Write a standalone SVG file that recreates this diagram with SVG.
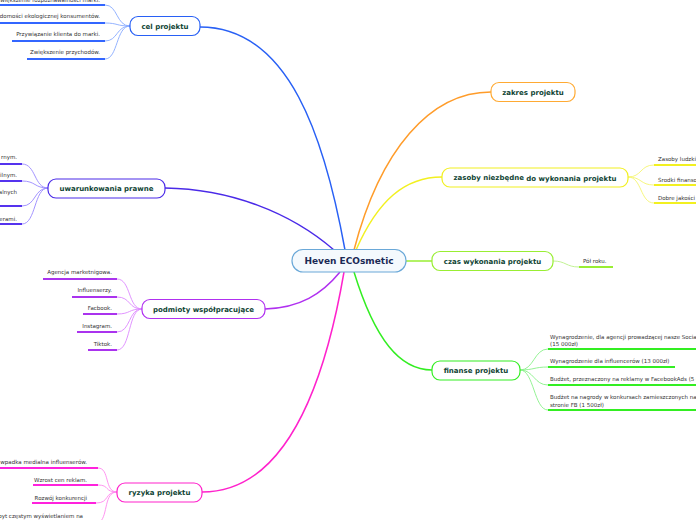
<svg xmlns="http://www.w3.org/2000/svg" width="696" height="520" viewBox="0 0 696 520">
<style>
.bg{fill:#ffffff}
.node rect{fill:#ffffff;stroke-width:1.2}
.nt{font-family:"DejaVu Sans",Verdana,sans-serif;font-weight:bold;font-size:7px;fill:#0f4434;text-anchor:middle}
.ct{font-family:"DejaVu Sans",Verdana,sans-serif;font-weight:bold;font-size:9px;fill:#1b2a55;text-anchor:middle}
.lt{font-family:"DejaVu Sans",Verdana,sans-serif;font-size:5.5px;fill:#333333}
.le{text-anchor:end}
.main{fill:none;stroke-width:1.5}
.sub{fill:none;stroke-width:0.9}
.ul{fill:none;stroke-width:2}
</style>
<rect class="bg" x="0" y="0" width="696" height="520"/>

<g id="connectors">
  <!-- main branches -->
  <path class="main" stroke="#2860f5" d="M345,250 C325,140 290,27 200,27"/>
  <path class="main" stroke="#4a2ae8" d="M334,250 C290,212 230,189 165,188"/>
  <path class="main" stroke="#b030f0" d="M340,272 C322,294 300,308 265,309"/>
  <path class="main" stroke="#ff22cc" d="M344,272 C322,400 280,492 202,492"/>
  <path class="main" stroke="#ff9c2a" d="M354,250 C380,150 430,92 491,92"/>
  <path class="main" stroke="#f2f020" d="M356,250 C378,200 405,177 442,177"/>
  <path class="main" stroke="#99ee33" d="M406,261 L432,261"/>
  <path class="main" stroke="#33ee22" d="M354,272 C375,340 400,370 432,370"/>

  <!-- cel projektu leaves -->
  <path class="sub" stroke="#88aaff" d="M130,26 C116,26 118,5 105,5"/>
  <path class="sub" stroke="#88aaff" d="M130,26 C116,26 118,23 105,23"/>
  <path class="sub" stroke="#88aaff" d="M130,26 C116,26 118,41 105,41"/>
  <path class="sub" stroke="#88aaff" d="M130,26 C116,26 118,59 105,59"/>
  <path class="ul" stroke="#3366ff" d="M0,5 L105,5"/>
  <path class="ul" stroke="#3366ff" d="M0,23 L105,23"/>
  <path class="ul" stroke="#3366ff" d="M12,41 L105,41"/>
  <path class="ul" stroke="#3366ff" d="M27,59 L105,59"/>

  <!-- uwarunkowania leaves -->
  <path class="sub" stroke="#9988ff" d="M48,188 C34,188 36,164 22,164"/>
  <path class="sub" stroke="#9988ff" d="M48,188 C34,188 36,181 22,181"/>
  <path class="sub" stroke="#9988ff" d="M48,188 C34,188 36,206 22,206"/>
  <path class="sub" stroke="#9988ff" d="M48,188 C34,188 36,224 22,224"/>
  <path class="ul" stroke="#5533ee" d="M0,164 L22,164"/>
  <path class="ul" stroke="#5533ee" d="M0,181 L22,181"/>
  <path class="ul" stroke="#5533ee" d="M0,206 L22,206"/>
  <path class="ul" stroke="#5533ee" d="M0,224 L22,224"/>

  <!-- podmioty leaves -->
  <path class="sub" stroke="#dd88ff" d="M142,309 C128,309 131,279 117,279"/>
  <path class="sub" stroke="#dd88ff" d="M142,309 C128,309 131,297 117,297"/>
  <path class="sub" stroke="#dd88ff" d="M142,309 C128,309 131,314 117,314"/>
  <path class="sub" stroke="#dd88ff" d="M142,309 C128,309 131,332 117,332"/>
  <path class="sub" stroke="#dd88ff" d="M142,309 C128,309 131,350 117,350"/>
  <path class="ul" stroke="#aa33ee" d="M43,279 L117,279"/>
  <path class="ul" stroke="#aa33ee" d="M72,297 L117,297"/>
  <path class="ul" stroke="#aa33ee" d="M83,314 L117,314"/>
  <path class="ul" stroke="#aa33ee" d="M77,332 L117,332"/>
  <path class="ul" stroke="#aa33ee" d="M88,350 L117,350"/>

  <!-- ryzyka leaves -->
  <path class="sub" stroke="#ff88ee" d="M117,492 C104,492 110,468 98,468"/>
  <path class="sub" stroke="#ff88ee" d="M117,492 C104,492 110,485 98,485"/>
  <path class="sub" stroke="#ff88ee" d="M117,492 C104,492 110,503 96,503"/>
  <path class="sub" stroke="#ff88ee" d="M117,492 C104,492 108,515 100,522"/>
  <path class="ul" stroke="#ff22dd" d="M0,468 L98,468"/>
  <path class="ul" stroke="#ff22dd" d="M33,485 L98,485"/>
  <path class="ul" stroke="#ff22dd" d="M32,503 L96,503"/>

  <!-- zasoby leaves -->
  <path class="sub" stroke="#f5f570" d="M628,177 C642,177 640,165 654,165"/>
  <path class="sub" stroke="#f5f570" d="M628,177 C642,177 640,185 654,185"/>
  <path class="sub" stroke="#f5f570" d="M628,177 C642,177 640,203 654,203"/>
  <path class="ul" stroke="#f2f020" d="M654,165 L696,165"/>
  <path class="ul" stroke="#f2f020" d="M654,185 L696,185"/>
  <path class="ul" stroke="#f2f020" d="M654,203 L696,203"/>

  <!-- czas leaf -->
  <path class="sub" stroke="#bbf088" d="M553,261 C566,261 566,267 579,267"/>
  <path class="ul" stroke="#99ee33" d="M579,267 L613,267"/>

  <!-- finanse leaves -->
  <path class="sub" stroke="#88f088" d="M520,370 C534,370 534,349 548,349"/>
  <path class="sub" stroke="#88f088" d="M520,370 C534,370 534,367 548,367"/>
  <path class="sub" stroke="#88f088" d="M520,370 C534,370 534,385 548,385"/>
  <path class="sub" stroke="#88f088" d="M520,370 C534,370 534,410 548,410"/>
  <path class="ul" stroke="#33ee22" d="M548,349 L696,349"/>
  <path class="ul" stroke="#33ee22" d="M548,367 L675,367"/>
  <path class="ul" stroke="#33ee22" d="M548,385 L696,385"/>
  <path class="ul" stroke="#33ee22" d="M548,410 L696,410"/>
</g>

<g id="center" class="node">
  <rect x="292" y="249.5" width="114" height="22.5" rx="11" style="fill:#f4f9fd" stroke="#6aa8d8"/>
  <text class="ct" x="349" y="264">Heven ECOsmetic</text>
</g>

<g id="cel-projektu" class="node">
  <rect x="130" y="16.5" width="70" height="19" rx="8" stroke="#2860f5"/>
  <text class="nt" x="165" y="28.5">cel projektu</text>
  <text class="lt le" x="100" y="2">Zwiększenie rozpoznawalności marki.</text>
  <text class="lt le" x="100" y="18">Zwiększenie świadomości ekologicznej konsumentów.</text>
  <text class="lt le" x="100" y="36">Przywiązanie klienta do marki.</text>
  <text class="lt le" x="100" y="54">Zwiększenie przychodów.</text>
</g>

<g id="uwarunkowania-prawne" class="node">
  <rect x="48" y="179" width="117" height="19" rx="8" stroke="#4a2ae8"/>
  <text class="nt" x="106.5" y="191">uwarunkowania prawne</text>
  <text class="lt le" x="17" y="159">rnym.</text>
  <text class="lt le" x="17" y="177">ilnym.</text>
  <text class="lt le" x="17" y="194">alnych</text>
  <text class="lt le" x="17" y="221">erami.</text>
</g>

<g id="podmioty-wspolpracujace" class="node">
  <rect x="142" y="299.5" width="123" height="19" rx="8" stroke="#b030f0"/>
  <text class="nt" x="203.5" y="311.5">podmioty współpracujące</text>
  <text class="lt le" x="112" y="274">Agencja marketnigowa.</text>
  <text class="lt le" x="112" y="292">Influenserzy.</text>
  <text class="lt le" x="112" y="310">Facbook.</text>
  <text class="lt le" x="112" y="328">Instagram.</text>
  <text class="lt le" x="112" y="346">Tiktok.</text>
</g>

<g id="ryzyka-projektu" class="node">
  <rect x="117" y="483" width="85" height="19" rx="8" stroke="#ff22cc"/>
  <text class="nt" x="159.5" y="495">ryzyka projektu</text>
  <text class="lt le" x="87" y="464">wpadka medialna influenserów.</text>
  <text class="lt le" x="87" y="482">Wzrost cen reklam.</text>
  <text class="lt le" x="87" y="500">Rozwój konkurencji</text>
  <text class="lt le" x="83" y="518">zbyt częstym wyświetlaniem na</text>
</g>

<g id="zakres-projektu" class="node">
  <rect x="491" y="82.5" width="84" height="19" rx="8" stroke="#ffaa33"/>
  <text class="nt" x="533" y="94.5">zakres projektu</text>
</g>

<g id="zasoby" class="node">
  <rect x="442" y="168" width="186" height="19" rx="8" stroke="#f2f020"/>
  <text class="nt" x="535" y="179.5">zasoby niezbędne<tspan dy="1"> do wykonania projektu</tspan></text>
  <text class="lt" x="658" y="161">Zasoby ludzkie.</text>
  <text class="lt" x="658" y="182">Środki finansowe.</text>
  <text class="lt" x="658" y="200">Dobre jakości produkty.</text>
</g>

<g id="czas-wykonania" class="node">
  <rect x="432" y="251.5" width="121" height="19" rx="8" stroke="#99ee33"/>
  <text class="nt" x="492.5" y="263.5">czas wykonania projektu</text>
  <text class="lt" x="583" y="263">Pół roku.</text>
</g>

<g id="finanse-projektu" class="node">
  <rect x="432" y="361" width="88" height="19" rx="8" stroke="#33ee22"/>
  <text class="nt" x="476" y="373">finanse projektu</text>
  <text class="lt" x="550" y="339">Wynagrodzenie, dla agencji prowadzącej nasze Social Media</text>
  <text class="lt" x="550" y="346">(15 000zł)</text>
  <text class="lt" x="550" y="363">Wynagrodzenie dla influencerów (13 000zł)</text>
  <text class="lt" x="550" y="381">Budżet, przeznaczony na reklamy w FacebookAds (5 000zł)</text>
  <text class="lt" x="550" y="399">Budżet na nagrody w konkursach zamieszczonych na</text>
  <text class="lt" x="550" y="407">stronie FB (1 500zł)</text>
</g>
</svg>
